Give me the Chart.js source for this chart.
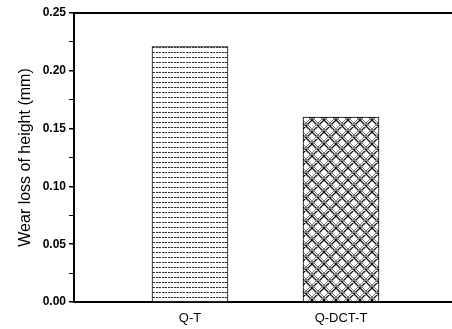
<!DOCTYPE html>
<html>
<head>
<meta charset="utf-8">
<script src="https://cdn.jsdelivr.net/npm/chart.js@4"></script>
<style>
  html, body { margin: 0; padding: 0; background: #fff; }
  #box { width: 452px; height: 329px; }
</style>
</head>
<body>
<div id="box"><canvas id="grafico"></canvas></div>
<script>
const categorias = ['Q-T', 'Q-DCT-T'];
const posicoes = [1, 2];
const desgaste = [0.221, 0.160];
const ticksY = [0, 0.05, 0.10, 0.15, 0.20, 0.25];

// hachura horizontal tracejada (Q-T)
function padraoLinhas() {
  const c = document.createElement('canvas');
  c.width = 6; c.height = 5;
  const g = c.getContext('2d');
  g.fillStyle = '#fff';
  g.fillRect(0, 0, 6, 5);
  g.fillStyle = '#333';
  g.fillRect(0, 2, 2, 1);
  g.fillRect(3, 2, 2, 1);
  g.fillStyle = '#999';
  g.fillRect(2, 2, 1, 1);
  return g.createPattern(c, 'repeat');
}

// hachura cruzada (Q-DCT-T)
function padraoCruzado() {
  const c = document.createElement('canvas');
  c.width = 12; c.height = 12;
  const g = c.getContext('2d');
  g.fillStyle = '#fff';
  g.fillRect(0, 0, 12, 12);
  g.strokeStyle = '#111';
  g.lineWidth = 1.3;
  g.beginPath();
  for (let k = -12; k <= 24; k += 12) {
    g.moveTo(k, 0); g.lineTo(k + 12, 12);
    g.moveTo(k + 12, 0); g.lineTo(k, 12);
  }
  g.stroke();
  g.strokeStyle = '#777';
  g.lineWidth = 1;
  g.beginPath();
  for (let k = -12; k <= 24; k += 12) {
    g.moveTo(k + 3, 0); g.lineTo(k + 15, 12);
    g.moveTo(k + 9, 0); g.lineTo(k - 3, 12);
  }
  g.stroke();
  return g.createPattern(c, 'repeat');
}

const molduraTopo = {
  id: 'molduraTopo',
  afterDraw(chart) {
    const { ctx, chartArea } = chart;
    ctx.save();
    ctx.strokeStyle = '#000';
    ctx.lineWidth = 2;
    ctx.beginPath();
    ctx.moveTo(chartArea.left, chartArea.top);
    ctx.lineTo(chartArea.right, chartArea.top);
    ctx.stroke();
    ctx.restore();
  }
};

const ctx = document.getElementById('grafico').getContext('2d');
new Chart(ctx, {
  type: 'bar',
  data: {
    datasets: [{
      data: posicoes.map((p, i) => ({ x: p, y: desgaste[i] })),
      backgroundColor: [padraoLinhas(), padraoCruzado()],
      borderColor: '#000',
      borderWidth: 1,
      barThickness: 76
    }]
  },
  plugins: [molduraTopo],
  options: {
    responsive: true,
    maintainAspectRatio: false,
    animation: false,
    layout: { padding: { top: 13, right: 0, left: 0, bottom: 0 } },
    plugins: { legend: { display: false }, tooltip: { enabled: false } },
    scales: {
      x: {
        type: 'linear',
        offset: false,
        min: 0.232,
        max: 2.735,
        afterBuildTicks: s => { s.ticks = posicoes.map(v => ({ value: v })); },
        afterFit: s => { s.height = 27; },
        ticks: {
          color: '#000',
          font: { family: 'Liberation Sans', size: 13 },
          padding: 9,
          callback: (v) => categorias[posicoes.indexOf(v)] || ''
        },
        grid: { display: true, offset: false, drawOnChartArea: false, drawTicks: false },
        border: { color: '#000', width: 2 }
      },
      y: {
        min: 0,
        max: 0.25,
        afterBuildTicks: s => {
          const t = [];
          for (let i = 0; i <= 10; i++) t.push({ value: i * 0.025 });
          s.ticks = t;
        },
        afterFit: s => { s.width = 74; },
        ticks: {
          color: '#000',
          font: { family: 'Liberation Sans', size: 12, weight: 'bold' },
          padding: 3,
          callback: (v) => {
            const m = ticksY.find(t => Math.abs(t - v) < 1e-6);
            return m === undefined ? '' : m.toFixed(2);
          }
        },
        grid: {
          drawOnChartArea: false,
          tickLength: 5,
          color: '#000',
          lineWidth: c => (c.index % 2 === 0 ? 1.5 : 1)
        },
        border: { color: '#000', width: 2 },
        title: {
          display: true,
          text: 'Wear loss of height (mm)',
          color: '#000',
          font: { family: 'Liberation Sans', size: 16 },
          padding: { top: 16, bottom: 0 }
        }
      }
    }
  }
});
</script>
</body>
</html>
